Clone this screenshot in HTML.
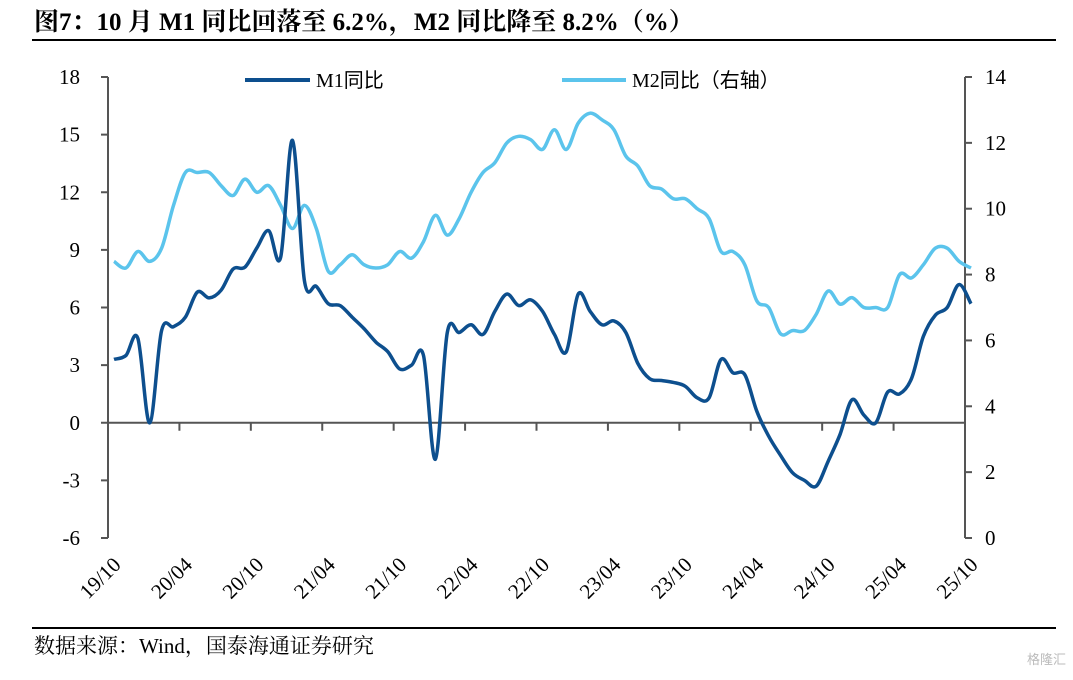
<!DOCTYPE html>
<html><head><meta charset="utf-8">
<style>
html,body{margin:0;padding:0;background:#fff;}
body{width:1073px;height:675px;overflow:hidden;font-family:"Liberation Serif","Noto Serif CJK SC",serif;}
</style></head>
<body>
<svg width="1073" height="675" viewBox="0 0 1073 675" xmlns="http://www.w3.org/2000/svg">
<text x="34" y="30" font-size="25" font-weight="bold" font-family="'Liberation Serif','Noto Serif CJK SC',serif" fill="#000">图7：10 月 M1 同比回落至 6.2%，M2 同比降至 8.2%（%）</text>
<line x1="32" y1="40" x2="1056" y2="40" stroke="#000" stroke-width="2"/>
<line x1="32" y1="628" x2="1056" y2="628" stroke="#000" stroke-width="2"/>
<text x="34" y="653" font-size="21" font-family="'Liberation Serif','Noto Serif CJK SC',serif" fill="#000">数据来源：Wind，国泰海通证券研究</text>
<text x="1066" y="664" font-size="13" text-anchor="end" fill="#bbb" font-family="'Liberation Sans','Noto Sans CJK SC',sans-serif">格隆汇</text>
<g id="axes"></g>
<g id="series"></g>
<g>
<line x1="245" y1="80" x2="310" y2="80" stroke="#0d4f8e" stroke-width="4"/>
<text x="316" y="87" font-size="20" font-family="'Liberation Serif','Noto Sans CJK SC',serif">M1同比</text>
<line x1="562" y1="80" x2="626" y2="80" stroke="#5bc4ec" stroke-width="4"/>
<text x="632" y="87" font-size="20" font-family="'Liberation Serif','Noto Sans CJK SC',serif">M2同比（右轴）</text>
</g>
</svg>
<script>
const xLabels=["19/10","20/04","20/10","21/04","21/10","22/04","22/10","23/04","23/10","24/04","24/10","25/04","25/10"];
const leftTicks=[18,15,12,9,6,3,0,-3,-6];
const rightTicks=[14,12,10,8,6,4,2,0];
const m1=[3.3,3.5,4.4,0.0,4.8,5.0,5.5,6.8,6.5,6.9,8.0,8.1,9.1,10.0,8.6,14.7,7.4,7.1,6.2,6.1,5.5,4.9,4.2,3.7,2.8,3.0,3.5,-1.9,4.7,4.7,5.1,4.6,5.8,6.7,6.1,6.4,5.8,4.6,3.7,6.7,5.8,5.1,5.3,4.7,3.1,2.3,2.2,2.1,1.9,1.3,1.3,3.3,2.6,2.5,0.6,-0.7,-1.7,-2.6,-3.0,-3.3,-2.0,-0.6,1.2,0.4,0.0,1.6,1.5,2.3,4.5,5.6,6.0,7.2,6.2];
const m2=[8.4,8.2,8.7,8.4,8.8,10.1,11.1,11.1,11.1,10.7,10.4,10.9,10.5,10.7,10.1,9.4,10.1,9.4,8.1,8.3,8.6,8.3,8.2,8.3,8.7,8.5,9.0,9.8,9.2,9.7,10.5,11.1,11.4,12.0,12.2,12.1,11.8,12.4,11.8,12.6,12.9,12.7,12.4,11.6,11.3,10.7,10.6,10.3,10.3,10.0,9.7,8.7,8.7,8.3,7.2,7.0,6.2,6.3,6.3,6.8,7.5,7.1,7.3,7.0,7.0,7.0,8.0,7.9,8.3,8.8,8.8,8.4,8.2];
const X0=108,X1=965,YT=77,YB=538;
const xt=i=>X0+(X1-X0)*i/72;
const x=i=>xt(i)+6;
const yL=v=>YT+(18-v)*(YB-YT)/24;
const yR=v=>YT+(14-v)*(YB-YT)/14;
const NS="http://www.w3.org/2000/svg";
function mk(tag,attrs,parent){const e=document.createElementNS(NS,tag);for(const k in attrs)e.setAttribute(k,attrs[k]);parent.appendChild(e);return e;}
const ax=document.getElementById('axes');
const la=mk('line',{x1:X0,y1:YT,x2:X0,y2:YB,stroke:'#555','stroke-width':2},ax);


leftTicks.forEach(v=>{
 const t=mk('line',{x1:X0-7,y1:yL(v),x2:X0,y2:yL(v),stroke:'#555','stroke-width':2},ax);
 
 
 const l=mk('text',{x:80,y:yL(v)+7,'font-size':21,'text-anchor':'end'},ax);
 l.textContent=v;
 
 
});
const ra=mk('line',{x1:X1,y1:YT,x2:X1,y2:YB,stroke:'#555','stroke-width':2},ax);


rightTicks.forEach(v=>{
 const t=mk('line',{x1:X1,y1:yR(v),x2:X1+7,y2:yR(v),stroke:'#555','stroke-width':2},ax);
 
 
 const l=mk('text',{x:985,y:yR(v)+7,'font-size':21},ax);
 l.textContent=v;
 
 
});
const xa=mk('line',{x1:X0,y1:yL(0),x2:X1,y2:yL(0),stroke:'#555','stroke-width':2},ax);


xLabels.forEach((s,k)=>{
 const xx=xt(k*6);
 const t=mk('line',{x1:xx,y1:yL(0),x2:xx,y2:yL(0)+8,stroke:'#555','stroke-width':2},ax);
 
 
 const l=mk('text',{x:0,y:0,'font-size':21,'text-anchor':'end',transform:`translate(${xx+14},${566}) rotate(-45)`},ax);
 l.textContent=s;
 
 
});
function smooth(pts){
 let d=`M${pts[0][0].toFixed(1)},${pts[0][1].toFixed(1)}`;
 for(let i=0;i<pts.length-1;i++){
  const p0=pts[Math.max(0,i-1)],p1=pts[i],p2=pts[i+1],p3=pts[Math.min(pts.length-1,i+2)];
  const c1=[p1[0]+(p2[0]-p0[0])/6,p1[1]+(p2[1]-p0[1])/6];
  const c2=[p2[0]-(p3[0]-p1[0])/6,p2[1]-(p3[1]-p1[1])/6];
  d+=` C${c1[0].toFixed(1)},${c1[1].toFixed(1)} ${c2[0].toFixed(1)},${c2[1].toFixed(1)} ${p2[0].toFixed(1)},${p2[1].toFixed(1)}`;
 }
 return d;
}
const sg=document.getElementById('series');
const p2=mk('path',{d:smooth(m2.map((v,i)=>[x(i),yR(v)])),fill:'none',stroke:'#5bc4ec','stroke-width':3.5,'stroke-linejoin':'round'},sg);


const p1=mk('path',{d:smooth(m1.map((v,i)=>[x(i),yL(v)])),fill:'none',stroke:'#0d4f8e','stroke-width':3.5,'stroke-linejoin':'round'},sg);


</script>
</body></html>
